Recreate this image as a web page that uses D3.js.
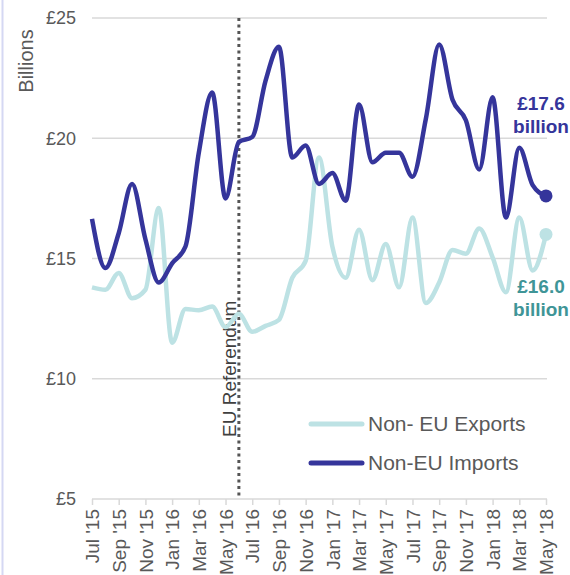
<!DOCTYPE html>
<html lang="en">
<head>
    <meta charset="UTF-8">
    <title>Non-EU Trade</title>
    <style>
        body {
            margin: 0;
            padding: 0;
            background-color: #ffffff;
            font-family: Arial, "Liberation Sans", sans-serif;
        }
        #chart {
            width: 570px;
            height: 575px;
        }
    </style>
</head>
<body>

<div id="chart"></div>

<script src="https://d3js.org/d3.v7.min.js"></script>
<script>
    // Monthly data, Jul 2015 - May 2018 (£ billions)
    const months = [
        "Jul '15", "Aug '15", "Sep '15", "Oct '15", "Nov '15", "Dec '15",
        "Jan '16", "Feb '16", "Mar '16", "Apr '16", "May '16", "Jun '16",
        "Jul '16", "Aug '16", "Sep '16", "Oct '16", "Nov '16", "Dec '16",
        "Jan '17", "Feb '17", "Mar '17", "Apr '17", "May '17", "Jun '17",
        "Jul '17", "Aug '17", "Sep '17", "Oct '17", "Nov '17", "Dec '17",
        "Jan '18", "Feb '18", "Mar '18", "Apr '18", "May '18"
    ];

    const exportsData = [
        13.8, 13.7, 14.4, 13.35, 13.7, 17.1,
        11.5, 12.9, 12.85, 13.0, 12.15, 12.7,
        11.95, 12.2, 12.45, 14.2, 14.9, 19.2,
        15.5, 14.2, 16.2, 14.1, 15.6, 13.8,
        16.7, 13.15, 14.0, 15.35, 15.2, 16.25,
        15.05, 13.6, 16.7, 14.5, 16.0
    ];

    const importsData = [
        16.65, 14.6, 16.05, 18.1, 15.8, 14.0,
        14.8, 15.5, 19.4, 21.9, 17.5, 19.85,
        20.05, 22.4, 23.8, 19.2, 19.7, 18.1,
        18.55, 17.4, 21.4, 19.0, 19.4, 19.4,
        18.4, 20.8, 23.9, 21.6, 20.75, 18.7,
        21.7, 16.7, 19.6, 18.05, 17.6
    ];

    const yTicks = [5, 10, 15, 20, 25];
    const referendumIndex = 11; // June 2016

    const seriesNames = ["Non- EU Exports", "Non-EU Imports"];
    const exportColor = "#bde2e4",
          importColor = "#35359b";

    const width = 570,
          height = 575;

    const svg = d3.select("#chart").append("svg")
        .attr("width", width)
        .attr("height", height);

    // left border strip
    svg.append("line")
        .attr("x1", 2.5).attr("x2", 2.5)
        .attr("y1", 0).attr("y2", height)
        .attr("stroke", "#d5d8f3")
        .attr("stroke-width", 2);

    const x = d3.scaleLinear()
        .domain([0, months.length - 1])
        .range([92, 546]);

    const y = d3.scaleLinear()
        .domain([5, 25])
        .range([499, 18]);

    // gridlines
    svg.append("g")
        .selectAll("line")
        .data(yTicks.filter(d => d > 5))
        .enter().append("line")
        .attr("x1", x(0))
        .attr("x2", x(months.length - 1) + 1)
        .attr("y1", d => y(d))
        .attr("y2", d => y(d))
        .attr("stroke", "#d9d9d9")
        .attr("stroke-width", 1.5);

    // y labels
    svg.append("g")
        .selectAll("text")
        .data(yTicks)
        .enter().append("text")
        .attr("x", 76)
        .attr("y", d => y(d))
        .attr("dy", "0.35em")
        .attr("text-anchor", "end")
        .style("font-size", "18px")
        .style("fill", "#595959")
        .text(d => "£" + d);

    svg.append("text")
        .attr("transform", "translate(33,61) rotate(-90)")
        .attr("text-anchor", "middle")
        .style("font-size", "20px")
        .style("fill", "#595959")
        .text("Billions");

    // x axis
    const xAxis = d3.axisBottom(x)
        .tickValues(d3.range(0, months.length, 2))
        .tickFormat(i => months[i])
        .tickSize(6)
        .tickSizeOuter(0);

    const gx = svg.append("g")
        .attr("transform", `translate(0,${y(5)})`)
        .call(xAxis);

    gx.select(".domain")
        .attr("stroke", "#d9d9d9")
        .attr("stroke-width", 1.5)
        .attr("d", `M${x(0)},0H${x(months.length - 1) + 1}`);
    gx.selectAll(".tick line")
        .attr("stroke", "#d9d9d9")
        .attr("stroke-width", 1.5);
    gx.selectAll(".tick text")
        .attr("transform", "rotate(-90)")
        .attr("x", -10)
        .attr("y", 0)
        .attr("dy", "0.35em")
        .attr("text-anchor", "end")
        .style("font-family", "Arial, 'Liberation Sans', sans-serif")
        .style("font-size", "19px")
        .style("fill", "#595959");

    // EU referendum marker
    const refX = x(referendumIndex);
    svg.append("line")
        .attr("x1", refX).attr("x2", refX)
        .attr("y1", y(25)).attr("y2", y(5))
        .attr("stroke", "#555555")
        .attr("stroke-width", 3)
        .attr("stroke-dasharray", "3,3.5");

    svg.append("text")
        .attr("transform", `translate(${refX - 3},437) rotate(-90)`)
        .attr("text-anchor", "start")
        .style("font-size", "19px")
        .style("fill", "#404040")
        .text("EU Referendum");

    // lines
    const line = d3.line()
        .x((d, i) => x(i))
        .y(d => y(d))
        .curve(d3.curveMonotoneX);

    svg.append("path")
        .datum(exportsData)
        .attr("fill", "none")
        .attr("stroke", exportColor)
        .attr("stroke-width", 4.5)
        .attr("stroke-linejoin", "round")
        .attr("d", line);

    svg.append("path")
        .datum(importsData)
        .attr("fill", "none")
        .attr("stroke", importColor)
        .attr("stroke-width", 4.5)
        .attr("stroke-linejoin", "round")
        .attr("d", line);

    // end dots
    const last = months.length - 1;
    svg.append("circle")
        .attr("cx", x(last)).attr("cy", y(exportsData[last]))
        .attr("r", 6.5).attr("fill", exportColor);
    svg.append("circle")
        .attr("cx", x(last)).attr("cy", y(importsData[last]))
        .attr("r", 6.5).attr("fill", importColor);

    // end labels
    function endLabel(value, ty, color) {
        const t = svg.append("text")
            .attr("x", 541)
            .attr("y", ty)
            .attr("text-anchor", "middle")
            .style("font-size", "19px")
            .style("font-weight", "bold")
            .style("fill", color);
        t.append("tspan").attr("x", 541).text("£" + value.toFixed(1));
        t.append("tspan").attr("x", 541).attr("dy", 23).text("billion");
    }
    endLabel(importsData[last], 110, "#35359b");
    endLabel(exportsData[last], 293, "#3f9597");

    // legend
    const legend = svg.append("g");
    [exportColor, importColor].forEach((c, i) => {
        const ly = 424 + i * 39;
        legend.append("line")
            .attr("x1", 311).attr("x2", 362)
            .attr("y1", ly).attr("y2", ly)
            .attr("stroke", c)
            .attr("stroke-width", 5)
            .attr("stroke-linecap", "round");
        legend.append("text")
            .attr("x", 368)
            .attr("y", ly)
            .attr("dy", "0.35em")
            .style("font-size", "21px")
            .style("fill", "#595959")
            .text(seriesNames[i]);
    });
</script>

</body>
</html>
